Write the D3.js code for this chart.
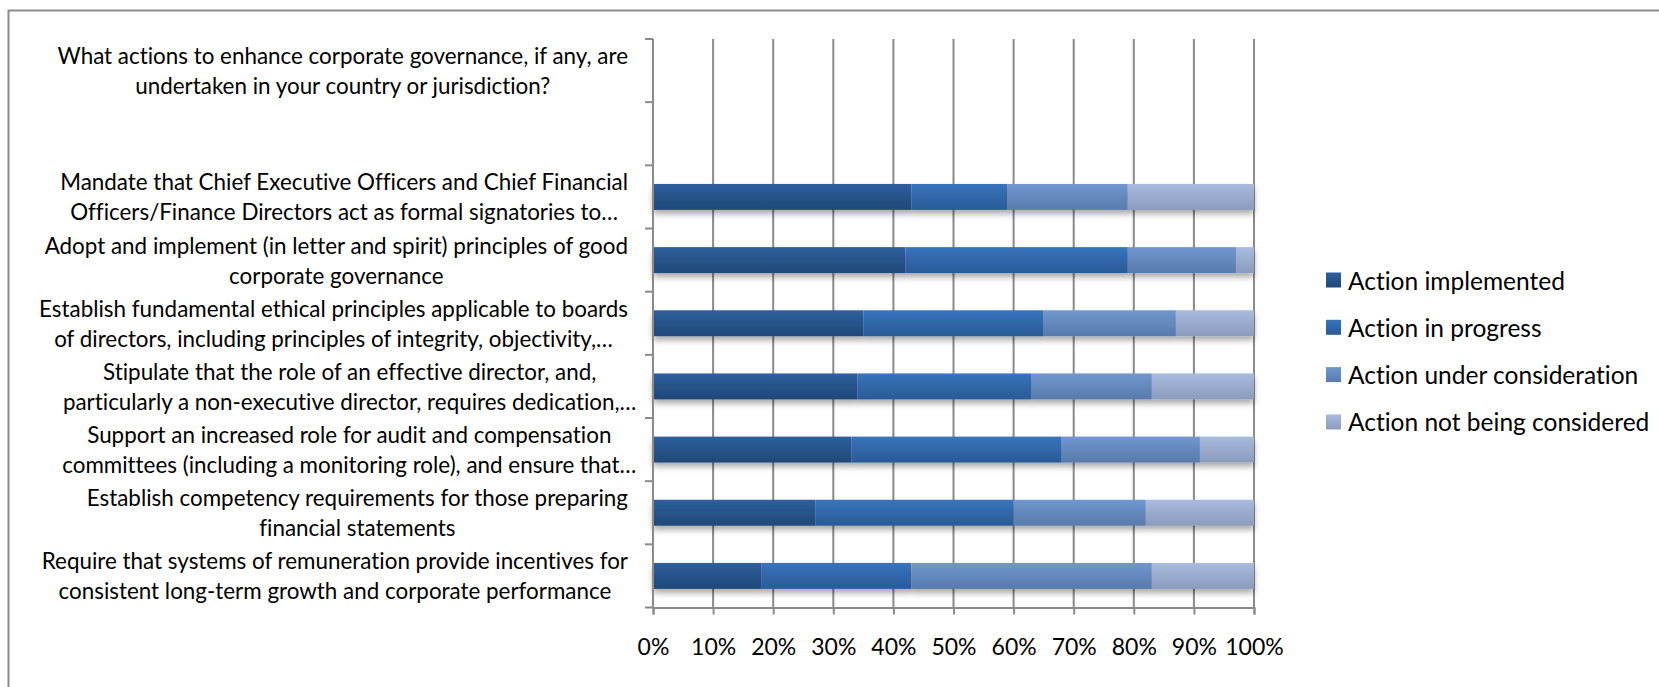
<!DOCTYPE html>
<html>
<head>
<meta charset="utf-8">
<script src="https://cdn.jsdelivr.net/npm/d3@7"></script>
<style>
  body { margin: 0; background: #fff; }
  svg { display: block; }
  text { font-family: Lato, "Open Sans", sans-serif; fill: #000; font-variant-ligatures: none; }
</style>
</head>
<body>
<svg id="chart" width="1659" height="687"></svg>
<script>
// categories, top to bottom (first two slots carry no bars)
const categories = ["q", "blank", "c1", "c2", "c3", "c4", "c5", "c6", "c7"];
const categoryLabels = [
  ["What actions to enhance corporate governance, if any, are", "undertaken in your country or jurisdiction?"],
  [],
  ["Mandate that Chief Executive Officers and Chief Financial", "Officers/Finance Directors act as formal signatories to…"],
  ["Adopt and implement (in letter and spirit) principles of good", "corporate governance"],
  ["Establish fundamental ethical principles applicable to boards", "of directors, including principles of integrity, objectivity,…"],
  ["Stipulate that the role of an effective director, and,", "particularly a non-executive director, requires dedication,…"],
  ["Support an increased role for audit and compensation", "committees (including a monitoring role), and ensure that…"],
  ["Establish competency requirements for those preparing", "financial statements"],
  ["Require that systems of remuneration provide incentives for", "consistent long-term growth and corporate performance"]
];

const seriesNames = ["Action implemented", "Action in progress", "Action under consideration", "Action not being considered"];

// shares (%) per category, null where there is no bar
const implemented   = [null, null, 43, 42, 35, 34, 33, 27, 18];
const inProgress    = [null, null, 16, 37, 30, 29, 35, 33, 25];
const consideration = [null, null, 20, 18, 22, 20, 23, 22, 40];
const notConsidered = [null, null, 21,  3, 13, 17,  9, 18, 17];

const xTicks = [0, 0.1, 0.2, 0.3, 0.4, 0.5, 0.6, 0.7, 0.8, 0.9, 1];

const gradTop    = ["#2e5f9d", "#3874bd", "#7097ce", "#a9bbde"];
const gradBottom = ["#204879", "#2a5a97", "#587aab", "#8a9bbc"];

const svg = d3.select("#chart");

// outer frame (top and left edges only are visible)
svg.append("path")
  .attr("d", "M8.5,687 V10.5 H1659")
  .attr("fill", "none")
  .attr("stroke", "#8c8c8c")
  .attr("stroke-width", 2);

const defs = svg.append("defs");
gradTop.forEach((c, i) => {
  const g = defs.append("linearGradient")
    .attr("id", "grad" + i)
    .attr("x1", 0).attr("y1", 0).attr("x2", 0).attr("y2", 1);
  g.append("stop").attr("offset", "0%").attr("stop-color", c);
  g.append("stop").attr("offset", "100%").attr("stop-color", gradBottom[i]);
});
const shadow = defs.append("filter").attr("id", "shadow")
  .attr("x", "-5%").attr("y", "-20%").attr("width", "110%").attr("height", "180%");
shadow.append("feDropShadow")
  .attr("dx", 0).attr("dy", 4)
  .attr("stdDeviation", 3)
  .attr("flood-color", "#000")
  .attr("flood-opacity", 0.35);

const x = d3.scaleLinear().domain([0, 1]).range([653, 1254]);
const y = d3.scaleBand().domain(categories).range([39, 607.5])
  .paddingInner(0.59).paddingOuter(0.295);

// gridlines
svg.append("g")
  .selectAll("line")
  .data(xTicks.slice(1))
  .join("line")
  .attr("x1", d => x(d)).attr("x2", d => x(d))
  .attr("y1", 39).attr("y2", 607.5)
  .attr("stroke", "#8a8a8a")
  .attr("stroke-width", 2);

// stacked bars
const rows = categories.map((c, i) => ({
  key: c,
  s0: implemented[i], s1: inProgress[i], s2: consideration[i], s3: notConsidered[i]
})).filter(d => d.s0 != null);

const stack = d3.stack().keys(["s0", "s1", "s2", "s3"]).offset(d3.stackOffsetExpand);
const layers = stack(rows);

const barG = svg.append("g").attr("filter", "url(#shadow)");
layers.forEach((layer, i) => {
  barG.append("g")
    .selectAll("rect")
    .data(layer)
    .join("rect")
    .attr("x", d => x(d[0]))
    .attr("width", d => x(d[1]) - x(d[0]))
    .attr("y", d => y(d.data.key))
    .attr("height", y.bandwidth())
    .attr("fill", "url(#grad" + i + ")");
});

// y axis: line plus ticks between categories
const step = y.step();
const yAxis = svg.append("g");
yAxis.append("line")
  .attr("x1", 653).attr("x2", 653)
  .attr("y1", 39).attr("y2", 607.5)
  .attr("stroke", "#8a8a8a").attr("stroke-width", 2);
yAxis.selectAll(".ytick")
  .data(d3.range(categories.length + 1))
  .join("line")
  .attr("x1", 645).attr("x2", 653)
  .attr("y1", i => 39 + i * step).attr("y2", i => 39 + i * step)
  .attr("stroke", "#8a8a8a").attr("stroke-width", 2);

// x axis
const xAxis = svg.append("g").attr("transform", "translate(0,607.5)")
  .call(d3.axisBottom(x).tickValues(xTicks).tickFormat(d3.format(".0%")).tickSize(7).tickPadding(24));
xAxis.select(".domain").attr("stroke", "#8a8a8a").attr("stroke-width", 2);
xAxis.selectAll(".tick line").attr("stroke", "#8a8a8a").attr("stroke-width", 2);
xAxis.selectAll(".tick text")
  .attr("font-family", "Lato, 'Open Sans', sans-serif")
  .attr("font-size", 23)
  .attr("fill", "#000");

// category labels: each block centered, its box right-aligned at the axis
const labelRight = 628;
const lineGap = 30;
const labelG = svg.append("g").attr("font-size", 22.4);
categories.forEach((c, i) => {
  const lines = categoryLabels[i];
  if (!lines.length) return;
  // measure widths without trailing ellipsis
  let maxW = 0;
  lines.forEach(l => {
    const t = labelG.append("text").text(l.replace(/…$/, ""));
    maxW = Math.max(maxW, t.node().getComputedTextLength());
    t.remove();
  });
  const cx = labelRight - maxW / 2;
  const cy = y(c) + y.bandwidth() / 2;
  lines.forEach((l, j) => {
    labelG.append("text")
      .attr("x", cx)
      .attr("y", cy + (j - (lines.length - 1) / 2) * lineGap)
      .attr("text-anchor", "middle")
      .attr("dominant-baseline", "central")
      .text(l);
  });
});

// legend
const legend = svg.append("g").attr("transform", "translate(1326,280)");
seriesNames.forEach((name, i) => {
  const g = legend.append("g").attr("transform", `translate(0,${i * 47.3})`);
  g.append("rect")
    .attr("x", 0).attr("y", -7.5)
    .attr("width", 15).attr("height", 15)
    .attr("fill", "url(#grad" + i + ")");
  g.append("text")
    .attr("x", 22).attr("y", 0)
    .attr("dominant-baseline", "central")
    .attr("font-size", 24.5)
    .text(name);
});
</script>
</body>
</html>
